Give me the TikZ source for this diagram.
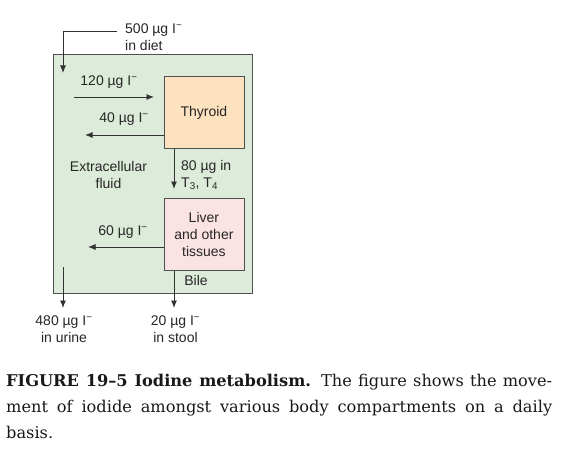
\documentclass[tikz,border=0pt]{standalone}
\usepackage{fontspec}
\setmainfont{DejaVu Serif}
\newfontfamily\diagfont{Liberation Sans}
\usetikzlibrary{arrows.meta}
\definecolor{ecf}{RGB}{221,236,218}
\definecolor{thy}{RGB}{253,226,192}
\definecolor{liv}{RGB}{251,227,227}
\definecolor{edge}{RGB}{80,80,80}
\definecolor{arr}{RGB}{50,50,50}
\tikzset{
  lbl/.style={font=\diagfont\fontsize{14}{16.8}\selectfont, inner sep=0pt, align=center, text=black!85},
  organ/.style={draw=edge, line width=0.8pt, inner sep=0pt},
  flow/.style={draw=arr, line width=0.9pt, -{Latex[length=7.5pt,width=6pt]}},
}
\newcommand{\ugI}{\textmu g I\textsuperscript{−}}
\begin{document}
\begin{tikzpicture}[x=1pt,y=-1pt]
\useasboundingbox (0,0) rectangle (576,452);
% compartments
\draw[organ, fill=ecf] (53,54) rectangle (252,293);
\node[organ, fill=thy, minimum width=80pt, minimum height=72.5pt, anchor=north west] (thyroid) at (163.5,75.8) {};
\node[organ, fill=liv, minimum width=80pt, minimum height=72pt, anchor=north west] (liver) at (163.5,198.3) {};
\node[lbl] (thytxt) at (thyroid.center) {Thyroid};
\node[lbl] (livtxt) at (liver.center) {Liver\\and other\\tissues};
% coordinates
\coordinate (dietstart) at (117,31);
\coordinate (dietcorner) at (63,31);
\coordinate (dietend) at (63,73);
\coordinate (in120a) at (74,97);
\coordinate (in120b) at (154,97);
\coordinate (out40) at (85,135);
\coordinate (to80) at (174,189);
\coordinate (out60) at (88,247);
\coordinate (bile) at (174,308);
\coordinate (urinea) at (63,267);
\coordinate (urineb) at (63,308);
% flows
\draw[flow] (dietstart) -- (dietcorner) -- (dietend);
\draw[flow] (in120a) -- (in120b);
\draw[flow] (thyroid.west |- out40) -- (out40);
\draw[flow] (thyroid.south -| to80) -- (to80);
\draw[flow] (liver.west |- out60) -- (out60);
\draw[flow] (liver.south -| bile) -- (bile);
\draw[flow] (urinea) -- (urineb);
% labels
\node[lbl, align=left, anchor=west] (diet) at (125,37.5) {500 \ugI\\in diet};
\node[lbl] (l120) at (109,82) {120 \ugI};
\node[lbl] (l40) at (124,119) {40 \ugI};
\node[lbl] (ecftxt) at (108.5,175) {Extracellular\\fluid};
\node[lbl, align=left, anchor=west] (l80) at (181,175) {80 \textmu g in\\T\textsubscript{3}, T\textsubscript{4}};
\node[lbl] (l60) at (123,232) {60 \ugI};
\node[lbl] (biletxt) at (196,280) {Bile};
\node[lbl] (urine) at (64,329) {480 \ugI\\in urine};
\node[lbl] (stool) at (175.5,329) {20 \ugI\\in stool};
% caption
\node[anchor=north west, inner sep=0pt, text width=546pt, align=justify,
      font=\fontsize{16.2}{26}\selectfont, text=black!90] (caption) at (6,374)
  {\textbf{FIGURE 19–5 Iodine metabolism.} The figure shows the move-\linebreak
   ment of iodide amongst various body compartments on a daily\linebreak
   basis.};
\end{tikzpicture}
\end{document}
